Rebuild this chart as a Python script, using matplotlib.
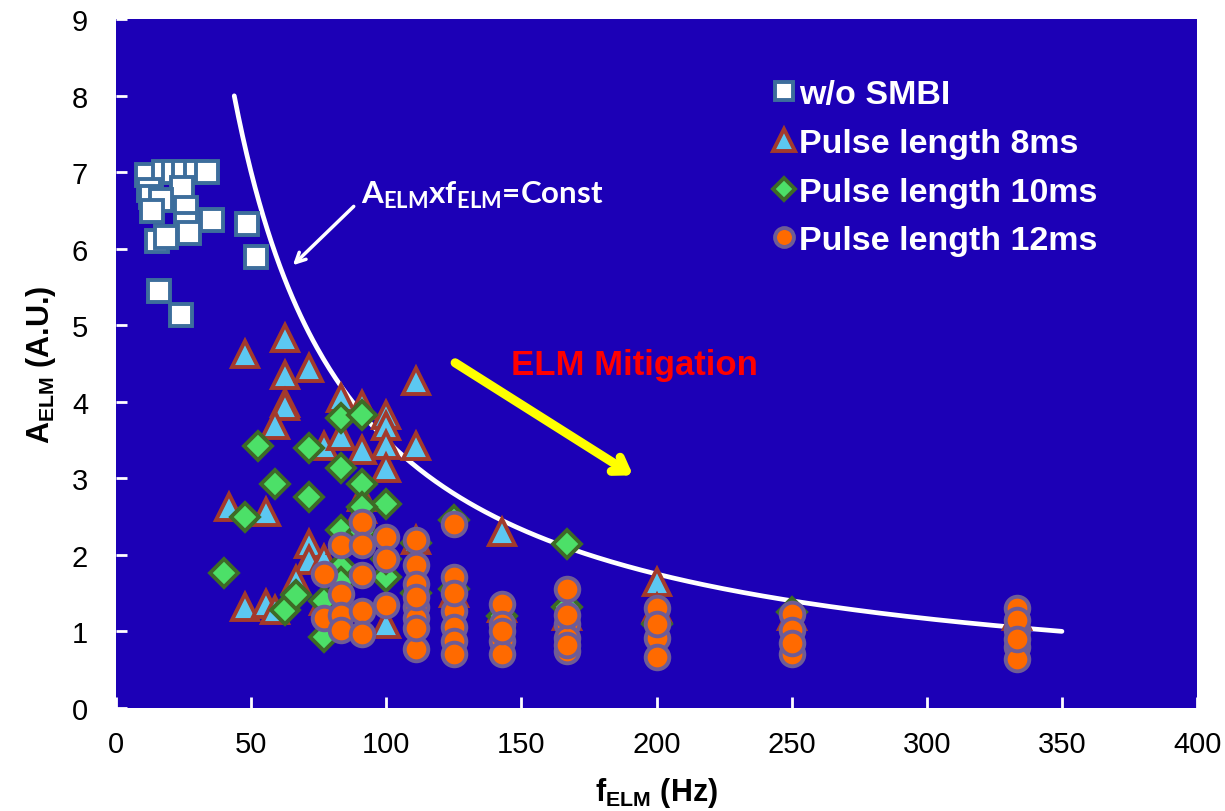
import numpy as np
import matplotlib
matplotlib.use("Agg")
import matplotlib.pyplot as plt

plt.rcParams['font.family'] = ['Liberation Sans', 'DejaVu Sans']
plt.rcParams['mathtext.fontset'] = 'custom'
plt.rcParams['mathtext.rm'] = 'Liberation Sans'
plt.rcParams['mathtext.bf'] = 'Liberation Sans:bold'
plt.rcParams['mathtext.sf'] = 'Lato:bold'

# ---- data ----
smbi_x = [11.5, 17.8, 21.5, 25, 29.6, 33.7, 24.4, 12.2, 13, 16.7, 13.3, 26, 26, 27, 35.6, 48.5, 51.8, 15.2, 18.5, 15.9, 24]
smbi_y = [6.96, 7.0, 7.0, 7.0, 7.0, 7.0, 6.8, 6.77, 6.68, 6.64, 6.49, 6.54, 6.32, 6.21, 6.38, 6.32, 5.89, 6.1, 6.15, 5.45, 5.13]

p8_x = [41.7, 47.6, 62.5, 62.5, 71.4, 62.5, 62.5, 58.8, 83.3, 90.9, 100, 100, 100, 100, 111.1, 111.1,
        76.9, 83.3, 90.9, 55.6, 90.9, 47.6, 55.6, 58.8, 71.4, 71.4, 66.7, 76.9, 100, 142.9, 200,
        83.3, 90.9, 111.1, 125, 142.9, 166.7, 200, 250, 333.3, 76.9, 83.3]
p8_y = [2.63, 4.63, 4.84, 4.35, 4.44, 3.98, 3.94, 3.70, 4.05, 3.96, 3.83, 3.68, 3.44, 3.14, 4.27, 3.42,
        3.42, 3.55, 3.37, 2.56, 2.75, 1.32, 1.36, 1.28, 2.14, 1.93, 1.67, 1.95, 1.10, 2.30, 1.65,
        2.20, 2.60, 2.20, 1.50, 1.30, 1.20, 1.30, 1.20, 1.20, 1.40, 1.80]

p10_x = [52.6, 71.4, 83.3, 90.9, 83.3, 58.8, 71.4, 90.9, 100, 47.6, 40, 62.5, 66.7, 76.9, 83.3, 83.3,
         90.9, 100, 125, 166.7, 166.7, 111.1, 111.1, 125, 142.9, 200, 250, 76.9, 83.3, 100, 90.9]
p10_y = [3.42, 3.40, 3.79, 3.83, 3.13, 2.92, 2.75, 2.92, 2.66, 2.50, 1.76, 1.28, 1.48, 0.93, 2.32, 1.84,
         2.62, 1.71, 2.45, 2.14, 1.32, 2.15, 1.50, 1.55, 1.20, 1.10, 1.25, 1.40, 1.65, 1.95, 2.30]

p12_x = [76.9, 76.9, 83.3, 83.3, 83.3, 83.3, 90.9, 90.9, 90.9, 90.9, 90.9, 100, 100, 100,
         111.1, 111.1, 111.1, 111.1, 111.1, 111.1, 111.1, 111.1,
         125, 125, 125, 125, 125, 125, 125,
         142.9, 142.9, 142.9, 142.9, 142.9,
         166.7, 166.7, 166.7, 166.7, 166.7, 166.7,
         200, 200, 200, 200,
         250, 250, 250, 250,
         333.3, 333.3, 333.3, 333.3, 333.3, 333.3]
p12_y = [1.75, 1.18, 2.13, 1.49, 1.22, 1.02, 2.43, 2.13, 1.74, 1.26, 0.97, 2.23, 1.95, 1.35,
         2.19, 1.87, 1.62, 1.32, 1.17, 0.77, 1.45, 1.05,
         2.40, 1.71, 1.26, 1.06, 0.87, 0.71, 1.50,
         1.36, 1.09, 0.87, 0.71, 1.00,
         1.56, 1.10, 0.91, 0.74, 1.22, 0.82,
         1.30, 0.91, 0.67, 1.10,
         1.23, 1.02, 0.71, 0.85,
         1.30, 1.02, 0.80, 0.64, 1.15, 0.90]

curve_const = 350
curve_xmin, curve_xmax = 43.75, 350

x_ticks = [0, 50, 100, 150, 200, 250, 300, 350, 400]
y_ticks = [0, 1, 2, 3, 4, 5, 6, 7, 8, 9]

# ---- figure ----
fig = plt.figure(figsize=(12.25, 8.12), dpi=100)
ax = fig.add_axes([0.0947, 0.127, 0.8825, 0.848])
bg = '#1C00B6'
ax.set_facecolor(bg)
for s in ax.spines.values():
    s.set_visible(False)

ms_kw = dict(linestyle='none', markeredgewidth=2.8)
ax.plot(smbi_x, smbi_y, marker='s', markersize=16, markerfacecolor='white',
        markeredgecolor='#3D6E9C', label='w/o SMBI', **ms_kw)
ax.plot(p8_x, p8_y, marker='^', markersize=19, markerfacecolor='#5CC8F2',
        markeredgecolor='#A33A2C', label='Pulse length 8ms', **ms_kw)
ax.plot(p10_x, p10_y, marker='D', markersize=14, markerfacecolor='#4CE068',
        markeredgecolor='#3E6A26', label='Pulse length 10ms', **ms_kw)
ax.plot(p12_x, p12_y, marker='o', markersize=17, markerfacecolor='#FF6A00',
        markeredgecolor='#6E5C96', label='Pulse length 12ms', **ms_kw)

xc = np.linspace(curve_xmin, curve_xmax, 400)
ax.plot(xc, curve_const / xc, color='white', lw=3.4, solid_capstyle='round', zorder=1.5)

ax.set_xlim(0, 400)
ax.set_ylim(0, 9)
ax.set_xticks(x_ticks)
ax.set_yticks(y_ticks)
ax.tick_params(axis='both', direction='in', color='white', length=8, width=2,
               labelsize=21, labelcolor='black')
ax.tick_params(axis='x', pad=16)
ax.tick_params(axis='y', pad=20)

ax.set_xlabel(r'$\mathbf{f_{ELM}}$ (Hz)', fontsize=22, fontweight='bold', labelpad=12)
ax.set_ylabel(r'$\mathbf{A_{ELM}}$ (A.U.)', fontsize=22, fontweight='bold', labelpad=10)

# annotation
ax.annotate('', xy=(64.7, 5.76), xytext=(88.7, 6.58),
            arrowprops=dict(arrowstyle='->,head_length=0.7,head_width=0.35', color='white', lw=2.5))
ax.text(90.6, 6.71, r'A$_{\mathsf{ELM}}$xf$_{\mathsf{ELM}}$=Const', color='white',
        fontsize=22.5, family='Lato', fontweight='bold', va='center', ha='left')

ax.annotate('', xy=(192.2, 3.02), xytext=(124.6, 4.53),
            arrowprops=dict(arrowstyle='->,head_length=0.9,head_width=0.6', color='#FFFF00', lw=6.5))
ax.text(146, 4.49, 'ELM Mitigation', color='#FF0000', fontsize=25, fontweight='bold',
        va='center', ha='left')

leg = ax.legend(loc='upper left', bbox_to_anchor=(0.607, 0.939), bbox_transform=fig.transFigure,
                frameon=False, handlelength=0.6, handletextpad=0.12, labelspacing=0.52,
                markerscale=0.8, prop=dict(family='Liberation Sans', weight='bold', size=24.5))
for t in leg.get_texts():
    t.set_color('white')

fig.savefig('out.png', dpi=100)
